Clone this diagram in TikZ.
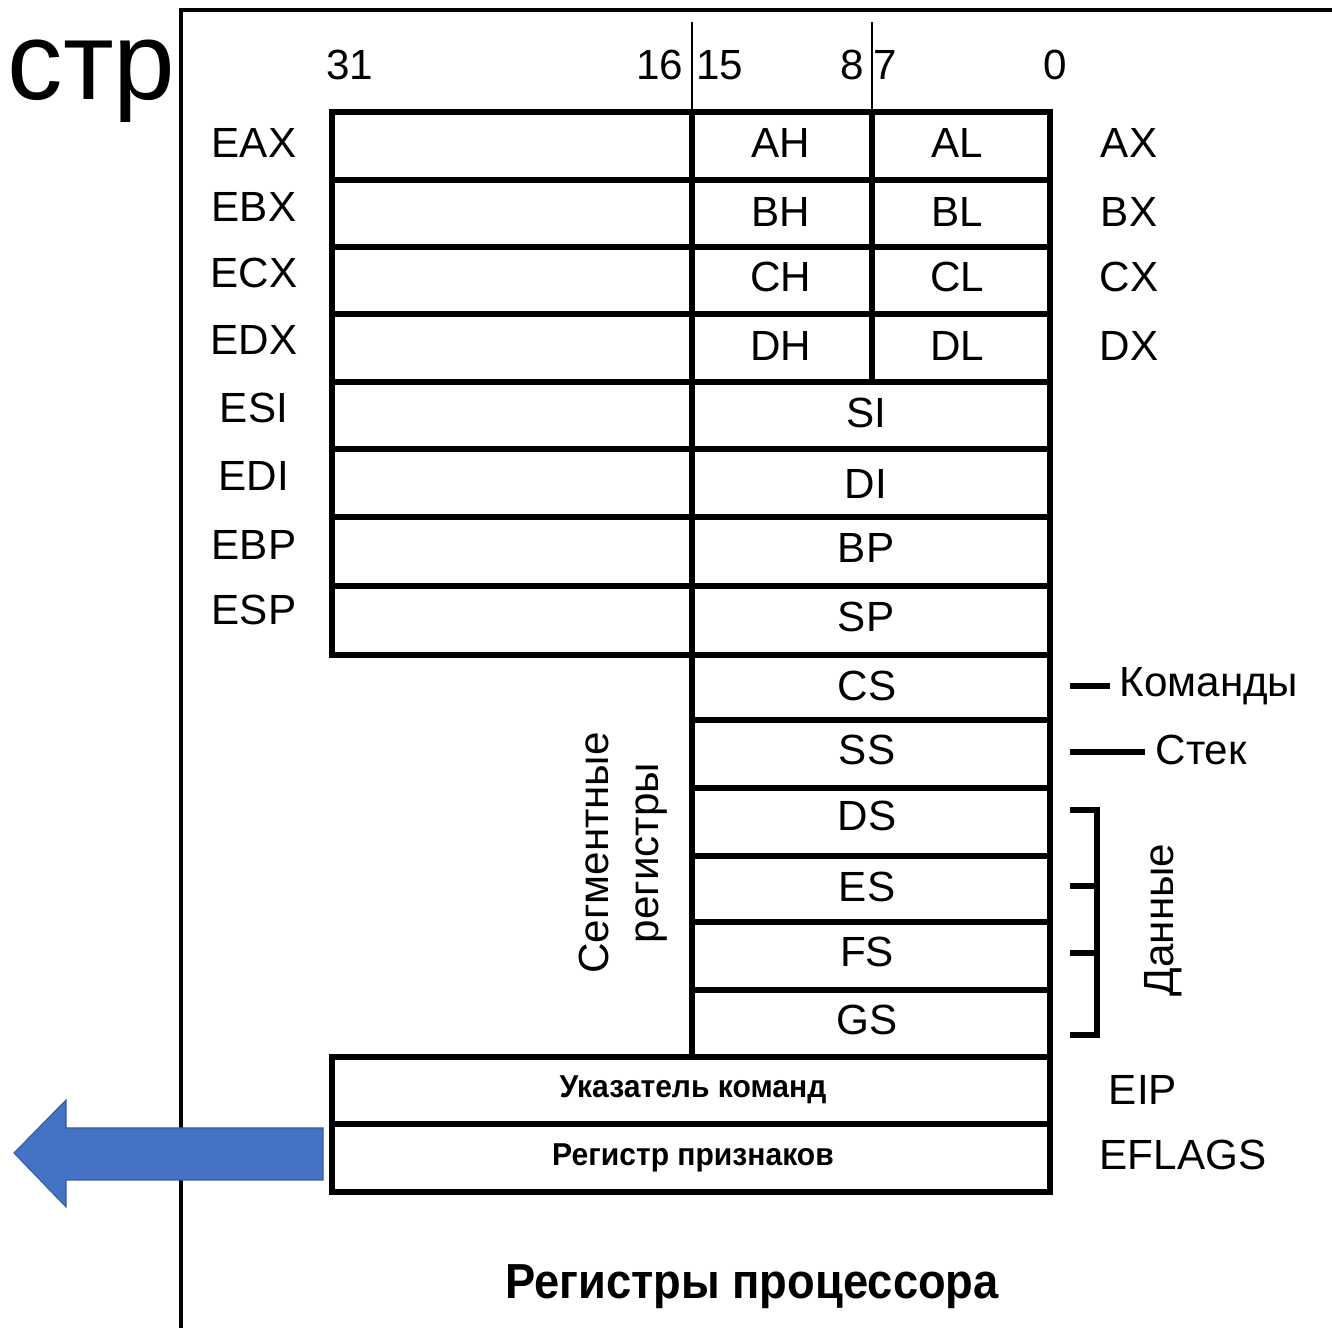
\documentclass[tikz,border=0pt]{standalone}
\usepackage{fontspec}
\setmainfont{Liberation Sans}
\usepackage{graphicx}

\definecolor{arrowblue}{HTML}{4472C4}
\tikzset{
  regline/.style={line width=1.5pt},
  tickline/.style={line width=0.6pt},
  lbl/.style={inner sep=0pt, font=\fontsize{12}{14.2}\selectfont},
  smalllbl/.style={inner sep=0pt, font=\fontsize{9}{10}\selectfont\bfseries},
}

\begin{document}
\begin{tikzpicture}[x=0.01cm,y=-0.01cm]
\useasboundingbox (0,0) rectangle (1332,1328);
% page frame and its caption
\draw[line width=0.9pt] (181,1328) -- (181,10) -- (1332,10);
\node[inner sep=0pt, anchor=base west, font=\fontsize{31.5}{35}\selectfont] (str) at (7,100) {стр};

% bit numbers
\draw[tickline] (692,22) -- (692,112) (872,22) -- (872,112);
\foreach \n/\x in {31/350, 16/660, 15/720, 8/852, 7/885, 0/1055}
  \node[lbl] (bit\n) at (\x,65) {\n};

% general registers
\draw[regline] (332,112) rectangle (1050,655);
\foreach \y in {180,247,314,382,449,517,586}
  \draw[regline] (332,\y) -- (1050,\y);
\draw[regline] (872,112) -- (872,382);
\draw[regline] (692,112) -- (692,1057);
\draw[regline] (692,655) -- (1050,655) -- (1050,1192);
\foreach \n/\y in {EAX/143, EBX/207, ECX/273, EDX/340, ESI/408, EDI/476, EBP/545, ESP/610}
  \node[lbl] (\n) at (254,\y) {\n};
\foreach \h/\l/\w/\y in {AH/AL/AX/143, BH/BL/BX/212, CH/CL/CX/277, DH/DL/DX/346} {
  \node[lbl] (\h) at (781,\y) {\h};
  \node[lbl] (\l) at (957,\y) {\l};
  \node[lbl] (\w) at (1129,\y) {\w};
}
\foreach \n/\y in {SI/413, DI/484, BP/548, SP/617}
  \node[lbl] (\n) at (866,\y) {\n};

% segment registers
\foreach \y in {720,788,856,922,990}
  \draw[regline] (692,\y) -- (1050,\y);
\foreach \n/\y in {CS/686, SS/750, DS/816, ES/887, FS/952, GS/1020}
  \node[lbl] (\n) at (867,\y) {\n};
\node[lbl, rotate=90, align=center] (seg) at (623,853) {Сегментные\\регистры};

\node[lbl, anchor=west, inner xsep=2.5pt] (kom) at (1110,686) {Команды};
\node[lbl, anchor=west, inner xsep=2.8pt] (stek) at (1145,750) {Стек};
\coordinate (kom0) at (1070,686);
\coordinate (stek0) at (1070,752);
\draw[regline] (kom0) -- (kom0 -| kom.west);
\draw[regline] (stek0) -- (stek0 -| stek.west);
\draw[regline] (1070,810) -- (1097,810) -- (1097,1035) -- (1070,1035);
\draw[regline] (1070,886) -- (1097,886) (1070,953) -- (1097,953);
\node[lbl, rotate=90] (dan) at (1163,920) {Данные};

% EIP and EFLAGS
\draw[regline] (332,1057) rectangle (1050,1192);
\draw[regline] (332,1124) -- (1050,1124);
\node[smalllbl] (ukaz) at (693,1090) {\scalebox{0.95}[1]{Указатель команд}};
\node[smalllbl] (prizn) at (693,1158) {\scalebox{0.95}[1]{Регистр признаков}};
\node[lbl] (EIP) at (1143,1090) {EIP};
\node[lbl] (EFLAGS) at (1183,1155) {EFLAGS};

% title
\node[inner sep=0pt, font=\fontsize{14}{16}\selectfont\bfseries] (title) at (752,1287)
  {\scalebox{0.92}[1]{Регистры процессора}};

% blue arrow
\filldraw[fill=arrowblue, draw=arrowblue!80!black, line width=0.3pt]
  (323,1128) -- (66,1128) -- (66,1100) -- (14,1153) -- (66,1207) -- (66,1180) -- (323,1180) -- cycle;
\end{tikzpicture}
\end{document}
